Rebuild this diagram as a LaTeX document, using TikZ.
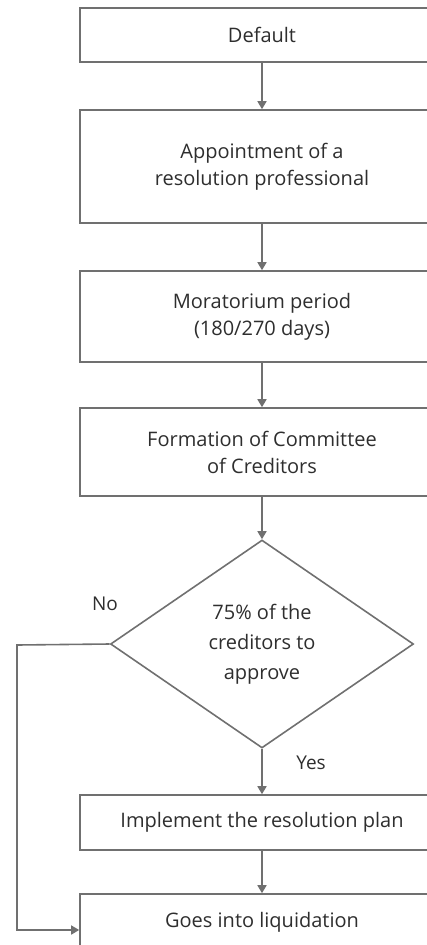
\documentclass[tikz,border=0pt]{standalone}
\usepackage{xcolor}
\usepackage{fontspec}
\setmainfont{Open Sans}
\usetikzlibrary{arrows.meta,shapes.geometric}
\definecolor{linegray}{HTML}{707070}
\definecolor{textgray}{HTML}{2E2E2E}

\begin{document}
\begin{tikzpicture}[x=1pt,y=-1pt,
    stage/.style={draw=linegray,line width=1.6pt,rectangle,minimum width=364pt,inner sep=0pt,
      text=textgray,align=center,font=\fontsize{20}{27}\selectfont},
    decision/.style={draw=linegray,line width=1.6pt,diamond,minimum width=303pt,minimum height=208pt,
      inner sep=0pt,text=textgray,align=center,font=\fontsize{20}{30}\selectfont},
    flow/.style={draw=linegray,line width=1.6pt,-{Triangle[width=9pt,length=8pt]}},
    tag/.style={text=textgray,font=\fontsize{19}{20}\selectfont}]
    % page frame (the flowchart runs off the right and bottom edge)
    \useasboundingbox (0,0) rectangle (427,945);
    \clip (0,0) rectangle (427,945);

    % process steps
    \node[stage,minimum height=54pt] (default) at (262,35) {Default};
    \node[stage,minimum height=113pt] (appoint) at (262,166.5) {Appointment of a\\resolution professional};
    \node[stage,minimum height=91pt] (morat) at (262,316.5) {Moratorium period\\(180/270 days)};
    \node[stage,minimum height=88pt] (commit) at (262,452) {Formation of Committee\\of Creditors};
    \node[decision] (vote) at (262,644) {75\% of the\\creditors to\\approve};
    \node[stage,minimum height=55pt] (plan) at (262,822.5) {Implement the resolution plan};
    \node[stage,minimum height=56pt] (liquid) at (262,922) {Goes into liquidation};

    % branch labels
    \node[tag] (no) at (105,604) {No};
    \node[tag] (yes) at (311,763) {Yes};
    \coordinate (back) at (17,645);

    % connectors
    \draw[flow] (default) -- (appoint);
    \draw[flow] (appoint) -- (morat);
    \draw[flow] (morat) -- (commit);
    \draw[flow] (commit) -- (vote);
    \draw[flow] (vote) -- (plan);
    \draw[flow] (plan) -- (liquid);
    \draw[flow] (vote.west) -- (back) |- ([yshift=-8pt]liquid.west);

\end{tikzpicture}
\end{document}
